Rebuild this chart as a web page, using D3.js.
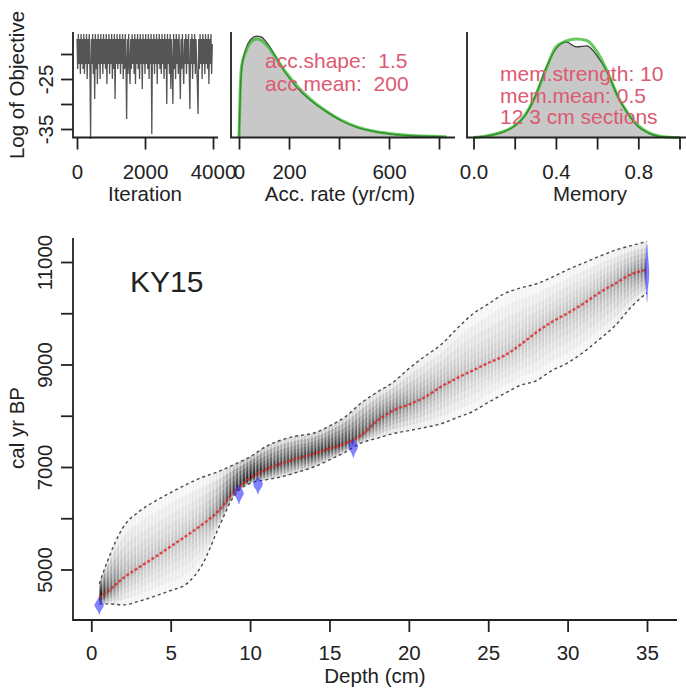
<!DOCTYPE html>
<html>
<head>
<meta charset="utf-8">
<script src="https://cdn.jsdelivr.net/npm/d3@7"></script>
<style>
body{margin:0;background:#fff;}
svg{font-family:"Liberation Sans",Arial,sans-serif;}
.tick text{font-size:20.5px;fill:#222;}
.lab{font-size:20.5px;fill:#222;}
.note{font-size:21px;fill:#dc5a72;white-space:pre;}
.title{font-size:30px;fill:#222;}
</style>
</head>
<body>
<svg id="chart" width="686" height="691"></svg>
<script>
// ---- values ----
var iterStep = 20;
var logObjective = [
 -17,-23,-16,-22,-17,-24,-16,-22,-17,-23,-16,-24,-17,-22,-16,-25,-17,-22,-16,-23,
 -37,-17,-22,-16,-24,-17,-29,-16,-23,-17,-26,-16,-22,-17,-25,-16,-22,-17,-24,-16,
 -22,-17,-23,-16,-26,-17,-22,-16,-24,-17,-22,-16,-25,-17,-23,-16,-29,-17,-22,-16,
 -23,-17,-22,-16,-24,-17,-22,-16,-25,-17,-23,-16,-22,-33,-17,-24,-16,-22,-26,-17,
 -23,-16,-22,-17,-24,-16,-26,-17,-22,-16,-23,-17,-25,-16,-22,-17,-27,-16,-22,-17,
 -24,-16,-22,-17,-23,-16,-25,-17,-22,-16,-36,-17,-22,-16,-24,-17,-22,-16,-26,-17,
 -22,-16,-23,-17,-24,-16,-22,-17,-25,-16,-23,-17,-30,-16,-22,-17,-24,-16,-27,-17,
 -22,-30,-16,-23,-17,-25,-16,-22,-17,-24,-16,-22,-29,-17,-23,-16,-22,-26,-17,-22,
 -16,-24,-17,-22,-16,-23,-31,-17,-22,-16,-25,-17,-22,-16,-24,-17,-22,-26,-32,-17,
 -23,-16,-22,-17,-25,-16,-22,-17,-24,-16,-22,-17,-23,-16,-26,-17,-22,-16,-24,-18];

var accRate  = [0, 5, 10, 25, 45, 70, 90, 115, 145, 185, 235, 290, 345, 410, 475, 545, 610, 690, 800, 830];
var accPrior = [0, 0.5, 0.72, 0.86, 0.96, 1.0, 0.985, 0.925, 0.82, 0.67, 0.515, 0.38, 0.275, 0.175, 0.105, 0.06, 0.038, 0.02, 0.01, 0.008];
var accPost  = [0, 0.45, 0.68, 0.88, 0.99, 1.03, 1.02, 0.95, 0.83, 0.66, 0.5, 0.37, 0.27, 0.17, 0.1, 0.06, 0.035, 0.018, 0.008, 0];

var memory   = [0, 0.05, 0.1, 0.15, 0.2, 0.25, 0.3, 0.35, 0.4, 0.45, 0.5, 0.55, 0.6, 0.65, 0.7, 0.75, 0.8, 0.85, 0.9, 0.95, 1.0];
var memPrior = [0, 0.01, 0.033, 0.065, 0.12, 0.23, 0.42, 0.68, 0.92, 0.98, 1.0, 0.985, 0.87, 0.67, 0.42, 0.245, 0.12, 0.05, 0.015, 0.003, 0];
var memPost  = [0, 0.01, 0.03, 0.06, 0.12, 0.22, 0.42, 0.7, 0.9, 0.97, 0.92, 0.93, 0.83, 0.66, 0.42, 0.24, 0.11, 0.045, 0.012, 0.003, 0];

var depths = [0.5,1,2,3,4,5,6,7,8,9,10,11,12,13,14,15,16,17,18,19,20,21,22,23,24,25,26,27,28,29,30,31,32,33,34,35];
var ageMean = [4450,4560,4830,5040,5240,5450,5660,5880,6140,6520,6780,6950,7070,7170,7260,7360,7460,7620,7900,8100,
               8220,8360,8560,8730,8880,9030,9170,9380,9620,9830,10000,10190,10400,10580,10760,10850];
var ageMax  = [4720,5150,5820,6130,6330,6500,6660,6800,6910,7050,7200,7400,7530,7610,7660,7800,7980,8250,8460,8650,
               8920,9160,9380,9690,9980,10180,10380,10490,10570,10700,10850,10980,11110,11230,11320,11400];
var ageMin  = [4330,4330,4310,4380,4480,4590,4720,5100,5800,6440,6680,6750,6810,6900,7000,7140,7290,7470,7560,7650,
               7710,7770,7840,7960,8080,8260,8430,8590,8680,8880,9030,9240,9490,9760,10120,10400];

var dateDepths = [0.5, 9.3, 10.5, 16.5, 35];
var dateAges = [
  [4120, 4200, 4260, 4310, 4360, 4420, 4470],
  [6280, 6350, 6420, 6480, 6540, 6600, 6650],
  [6470, 6540, 6610, 6680, 6740, 6800],
  [7180, 7260, 7340, 7400, 7460, 7530],
  [10230, 10400, 10550, 10680, 10800, 10950, 11100, 11250, 11350]];
var dateDens = [
  [0, 0.35, 0.8, 1, 0.7, 0.3, 0],
  [0, 0.3, 0.7, 1, 0.8, 0.4, 0],
  [0, 0.3, 0.8, 1, 0.6, 0],
  [0, 0.3, 0.8, 1, 0.7, 0],
  [0, 0.1, 0.25, 0.4, 0.45, 0.35, 0.2, 0.1, 0]];

var accNotes = ["acc.shape:  1.5", "acc.mean:  200"];
var memNotes = ["mem.strength: 10", "mem.mean: 0.5", "12 3 cm sections"];
var coreName = "KY15";

// ---- drawing ----
var svg = d3.select("#chart");
var ink = "#222";

function frame(x0, x1, y0, y1){
    //L-shaped box, left and bottom only
    svg.append("path")
        .attr("d", "M"+x0+" "+y0+" L"+x0+" "+y1+" L"+x1+" "+y1)
        .attr("fill", "none").attr("stroke", ink).attr("stroke-width", 1.8);
}

function bottomAxis(scale, y, ticks, fmt, pad){
    var a = svg.append("g").attr("transform", "translate(0,"+y+")")
        .call(d3.axisBottom(scale).tickValues(ticks).tickSize(12).tickPadding(pad).tickFormat(fmt));
    a.attr("font-size", null).attr("font-family", null);
    a.select(".domain").remove();
    a.selectAll(".tick line").attr("stroke", ink).attr("stroke-width", 1.8);
    return a;
}

function leftAxis(scale, x, ticks, fmt, dist){
    var a = svg.append("g").attr("transform", "translate("+x+",0)")
        .call(d3.axisLeft(scale).tickValues(ticks).tickSize(12).tickFormat(fmt));
    a.attr("font-size", null).attr("font-family", null);
    a.select(".domain").remove();
    a.selectAll(".tick line").attr("stroke", ink).attr("stroke-width", 1.8);
    a.selectAll(".tick text").attr("transform", "rotate(-90)")
        .attr("x", 0).attr("y", -dist).attr("dy", 0).attr("text-anchor", "middle");
    return a;
}

function label(txt, x, y, rot){
    var t = svg.append("text").attr("class", "lab").attr("text-anchor", "middle").text(txt);
    if(rot){
        t.attr("transform", "translate("+x+","+y+") rotate(-90)");
    }else{
        t.attr("x", x).attr("y", y);
    }
}

function only(list, f){
    return function(d){ return list.indexOf(d) >= 0 ? f(d) : ""; };
}

var topBase = 137.5;

// panel 1: MCMC trace
var xIt = d3.scaleLinear().domain([0, 4000]).range([77, 213]);
var yObj = d3.scaleLinear().domain([-35, -20]).range([129, 54]);
svg.append("path")
    .attr("d", d3.line().x(function(v, i){ return xIt(i*iterStep); }).y(function(v){ return yObj(v); })(logObjective))
    .attr("fill", "none").attr("stroke", "#555").attr("stroke-width", 1.3);
frame(73, 218, 32, topBase);
bottomAxis(xIt, topBase, [0, 2000, 4000], d3.format("d"), 15);
leftAxis(yObj, 73, [-35, -30, -25, -20], only([-35, -25], function(d){ return String(d); }), 20);
label("Iteration", 145, 201);
label("Log of Objective", 24, 85, true);

// panels 2 and 3: prior (green) over posterior (grey)
var yDen = d3.scaleLinear().domain([0, 1]).range([topBase, 39]);

function density(xs, prior, post, xScale){
    var area = d3.area().x(function(d, i){ return xScale(xs[i]); })
        .y0(yDen(0)).y1(function(d){ return yDen(d); }).curve(d3.curveMonotoneX);
    var line = d3.line().x(function(d, i){ return xScale(xs[i]); })
        .y(function(d){ return yDen(d); }).curve(d3.curveMonotoneX);
    svg.append("path").attr("d", area(post)).attr("fill", "#c8c8c8");
    svg.append("path").attr("d", line(post)).attr("fill", "none").attr("stroke", "#3a3a3a").attr("stroke-width", 1.3);
    svg.append("path").attr("d", line(prior)).attr("fill", "none")
        .attr("stroke", "rgba(40,180,30,0.7)").attr("stroke-width", 3);
}

var xAcc = d3.scaleLinear().domain([0, 800]).range([239, 439]);
density(accRate, accPrior, accPost, xAcc);
frame(231, 455, 32, topBase);
bottomAxis(xAcc, topBase, [0, 200, 400, 600, 800], only([0, 200, 600], d3.format("d")), 15);
label("Acc. rate (yr/cm)", 340, 201);
svg.selectAll(".accnote").data(accNotes).enter().append("text")
    .attr("class", "note").attr("x", 265).attr("y", function(d, i){ return 68 + i*23; }).text(function(d){ return d; });

var xMem = d3.scaleLinear().domain([0, 1]).range([473.5, 679.5]);
density(memory, memPrior, memPost, xMem);
frame(467, 713, 32, topBase);
bottomAxis(xMem, topBase, [0, 0.2, 0.4, 0.6, 0.8, 1.0], only([0, 0.4, 0.8], d3.format(".1f")), 15);
label("Memory", 590, 201);
svg.selectAll(".memnote").data(memNotes).enter().append("text")
    .attr("class", "note").attr("x", 500).attr("y", function(d, i){ return 81 + i*21.5; }).text(function(d){ return d; });

// main panel: age-depth model
var xD = d3.scaleLinear().domain([0, 35]).range([91.3, 647]);
var yA = d3.scaleLinear().domain([5000, 11000]).range([569.5, 262]);

var defs = svg.append("defs");
// darker where the model is narrow
var grad = defs.append("linearGradient").attr("id", "cloud")
    .attr("gradientUnits", "userSpaceOnUse")
    .attr("x1", xD(depths[0])).attr("x2", xD(depths[depths.length-1])).attr("y1", 0).attr("y2", 0);
depths.forEach(function(d, i){
    var w = ageMax[i] - ageMin[i];
    grad.append("stop")
        .attr("offset", (d - depths[0])/(depths[depths.length-1] - depths[0]))
        .attr("stop-color", "#000")
        .attr("stop-opacity", Math.min(0.38, 0.028*Math.pow(2500/w, 1.5)));
});
var stripes = defs.append("pattern").attr("id", "stripes")
    .attr("patternUnits", "userSpaceOnUse").attr("width", 3.4).attr("height", 20);
stripes.append("rect").attr("width", 1.4).attr("height", 20).attr("fill", "#fff").attr("opacity", 0.55);

var bands = [1, 0.8, 0.6, 0.42, 0.27, 0.15, 0.06];
bands.forEach(function(f){
    var band = d3.area()
        .x(function(d){ return xD(d); })
        .y0(function(d, i){ return yA(ageMean[i] - f*(ageMean[i] - ageMin[i])); })
        .y1(function(d, i){ return yA(ageMean[i] + f*(ageMax[i] - ageMean[i])); })
        .curve(d3.curveMonotoneX);
    svg.append("path").attr("d", band(depths)).attr("fill", "url(#cloud)");
});
var envelope = d3.area()
    .x(function(d){ return xD(d); })
    .y0(function(d, i){ return yA(ageMin[i]); })
    .y1(function(d, i){ return yA(ageMax[i]); })
    .curve(d3.curveMonotoneX);
svg.append("path").attr("d", envelope(depths)).attr("fill", "url(#stripes)");

function ageLine(arr){
    return d3.line().x(function(d){ return xD(d); })
        .y(function(d, i){ return yA(arr[i]); }).curve(d3.curveMonotoneX)(depths);
}
[ageMin, ageMax].forEach(function(arr){
    svg.append("path").attr("d", ageLine(arr)).attr("fill", "none")
        .attr("stroke", "#4a4a4a").attr("stroke-width", 1.4).attr("stroke-dasharray", "3,3");
});
svg.append("path").attr("d", ageLine(ageMean)).attr("fill", "none")
    .attr("stroke", "rgba(228,40,40,0.85)").attr("stroke-width", 2.3).attr("stroke-dasharray", "3,2");

// calibrated dates
var dateW = d3.scaleLinear().domain([0, 1]).range([0, 4.5]);
dateDepths.forEach(function(d, k){
    var shape = d3.area()
        .y(function(a){ return yA(a); })
        .x0(function(a, i){ return xD(d) - dateW(dateDens[k][i]); })
        .x1(function(a, i){ return xD(d) + dateW(dateDens[k][i]); })
        .curve(d3.curveMonotoneY);
    svg.append("path").attr("d", shape(dateAges[k]))
        .attr("fill", "rgba(30,30,255,0.55)").attr("stroke", "rgba(30,30,255,0.35)").attr("stroke-width", 0.6);
});

frame(73, 677, 238, 620);
bottomAxis(xD, 620, [0, 5, 10, 15, 20, 25, 30, 35], d3.format("d"), 13);
leftAxis(yA, 73, [5000, 6000, 7000, 8000, 9000, 10000, 11000], only([5000, 7000, 9000, 11000], d3.format("d")), 21);
label("Depth (cm)", 375, 683);
label("cal yr BP", 24, 428, true);
svg.append("text").attr("class", "title").attr("x", 130).attr("y", 292).text(coreName);
</script>
</body>
</html>
